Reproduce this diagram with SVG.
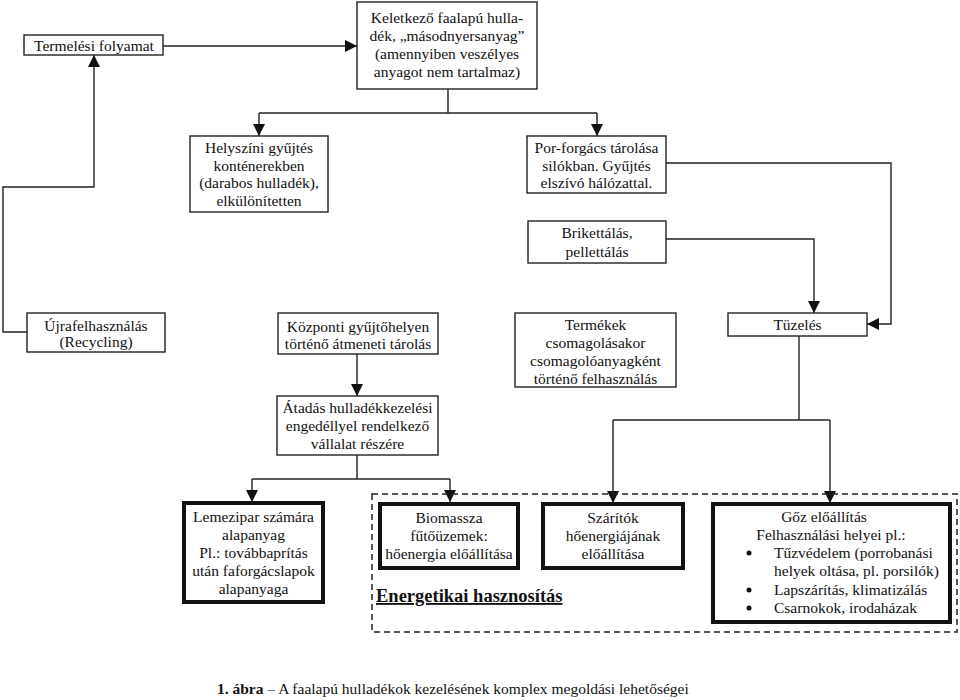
<svg xmlns="http://www.w3.org/2000/svg" width="960" height="700" viewBox="0 0 960 700">
<style>
.box{fill:#fff;stroke:#222;stroke-width:1.4}
.thick{fill:#fff;stroke:#111;stroke-width:4}
.dash{fill:none;stroke:#222;stroke-width:1.5;stroke-dasharray:6 4}
.c{fill:none;stroke:#222;stroke-width:1.4}
text{font-family:"Liberation Serif","Times New Roman",serif;font-size:15.5px;fill:#111;text-anchor:middle}
.l{text-anchor:start}
.b{font-weight:bold;font-size:18.5px;text-decoration:underline;text-anchor:start}
.cap{font-size:15.5px;text-anchor:start}
</style>
<defs>
<marker id="ah" markerUnits="userSpaceOnUse" markerWidth="12" markerHeight="12" refX="12" refY="6" orient="auto">
<path d="M0,0 L12,6 L0,12 z" fill="#111"/>
</marker>
</defs>
<rect width="960" height="700" fill="#fff"/>
<g id="connectors">
<path class="c" d="M163,46 H357" marker-end="url(#ah)"/>
<path class="c" d="M448,89 V113"/>
<path class="c" d="M259,113 H597"/>
<path class="c" d="M259,113 V136" marker-end="url(#ah)"/>
<path class="c" d="M597,113 V136" marker-end="url(#ah)"/>
<path class="c" d="M666,163 H891 V324 H867" marker-end="url(#ah)"/>
<path class="c" d="M666,239 H814 V313" marker-end="url(#ah)"/>
<path class="c" d="M27,332 H3 V187 H94 V55" marker-end="url(#ah)"/>
<path class="c" d="M357,354 V396" marker-end="url(#ah)"/>
<path class="c" d="M357,455 V479"/>
<path class="c" d="M252,479 H450"/>
<path class="c" d="M252,479 V502" marker-end="url(#ah)"/>
<path class="c" d="M450,479 V502" marker-end="url(#ah)"/>
<path class="c" d="M799,336 V420"/>
<path class="c" d="M613,420 H830"/>
<path class="c" d="M613,420 V503" marker-end="url(#ah)"/>
<path class="c" d="M830,420 V503" marker-end="url(#ah)"/>
</g>
<g id="termelesi">
<rect class="box" x="24" y="35" width="139" height="20"/>
<text x="94" y="51">Termelési folyamat</text>
</g>
<g id="keletkezo">
<rect class="box" x="357" y="2" width="180" height="87"/>
<text x="447" y="23">Keletkező faalapú hulla-</text>
<text x="447" y="41">dék, „másodnyersanyag”</text>
<text x="447" y="59">(amennyiben veszélyes</text>
<text x="447" y="77">anyagot nem tartalmaz)</text>
</g>
<g id="helyszini">
<rect class="box" x="190" y="136" width="138" height="76"/>
<text x="259" y="153">Helyszíni gyűjtés</text>
<text x="259" y="171">konténerekben</text>
<text x="259" y="188">(darabos hulladék),</text>
<text x="259" y="206">elkülönítetten</text>
</g>
<g id="porforgacs">
<rect class="box" x="527" y="136" width="139" height="57"/>
<text x="596.5" y="153">Por-forgács tárolása</text>
<text x="596.5" y="171">silókban. Gyűjtés</text>
<text x="596.5" y="188">elszívó hálózattal.</text>
</g>
<g id="brikettalas">
<rect class="box" x="528" y="221" width="138" height="42"/>
<text x="597" y="238">Brikettálás,</text>
<text x="597" y="257">pellettálás</text>
</g>
<g id="ujrafelhasznalas">
<rect class="box" x="27" y="313" width="138" height="39"/>
<text x="96" y="331">Újrafelhasználás</text>
<text x="96" y="347">(Recycling)</text>
</g>
<g id="kozponti">
<rect class="box" x="278" y="313" width="160" height="41"/>
<text x="358" y="332">Központi gyűjtőhelyen</text>
<text x="358" y="349">történő átmeneti tárolás</text>
</g>
<g id="atadas">
<rect class="box" x="277" y="396" width="161" height="59"/>
<text x="357.5" y="413">Átadás hulladékkezelési</text>
<text x="357.5" y="431">engedéllyel rendelkező</text>
<text x="357.5" y="449">vállalat részére</text>
</g>
<g id="termekek">
<rect class="box" x="515" y="313" width="161" height="74"/>
<text x="595.5" y="330">Termékek</text>
<text x="595.5" y="348">csomagolásakor</text>
<text x="595.5" y="366">csomagolóanyagként</text>
<text x="595.5" y="384">történő felhasználás</text>
</g>
<g id="tuzeles">
<rect class="box" x="728" y="313" width="139" height="23"/>
<text x="797.5" y="330">Tüzelés</text>
</g>
<g id="lemezipar">
<rect class="thick" x="184" y="503" width="139" height="99"/>
<text x="253.5" y="522">Lemezipar számára</text>
<text x="253.5" y="540">alapanyag</text>
<text x="253.5" y="558">Pl.: továbbaprítás</text>
<text x="253.5" y="576">után faforgácslapok</text>
<text x="253.5" y="594">alapanyaga</text>
</g>
<g id="energetikai">
<rect class="dash" x="372" y="494" width="585" height="138"/>
<text class="b" x="376" y="602">Energetikai hasznosítás</text>
</g>
<g id="biomassza">
<rect class="thick" x="380" y="504" width="138" height="64"/>
<text x="449" y="523">Biomassza</text>
<text x="449" y="541">fűtőüzemek:</text>
<text x="449" y="559">hőenergia előállítása</text>
</g>
<g id="szaritok">
<rect class="thick" x="543" y="504" width="140" height="64"/>
<text x="613" y="523">Szárítók</text>
<text x="613" y="541">hőenergiájának</text>
<text x="613" y="559">előállítása</text>
</g>
<g id="goz">
<rect class="thick" x="713" y="504" width="237" height="118"/>
<text x="824" y="522">Gőz előállítás</text>
<text x="831" y="540">Felhasználási helyei pl.:</text>
<circle cx="749" cy="553" r="2.5" fill="#111"/>
<text class="l" x="774" y="558">Tűzvédelem (porrobanási</text>
<text class="l" x="774" y="576">helyek oltása, pl. porsilók)</text>
<circle cx="749" cy="590" r="2.5" fill="#111"/>
<text class="l" x="774" y="595">Lapszárítás, klimatizálás</text>
<circle cx="749" cy="608" r="2.5" fill="#111"/>
<text class="l" x="774" y="613">Csarnokok, irodaházak</text>
</g>
<text class="cap" x="217" y="694"><tspan font-weight="bold">1. ábra</tspan> – A faalapú hulladékok kezelésének komplex megoldási lehetőségei</text>
</svg>
